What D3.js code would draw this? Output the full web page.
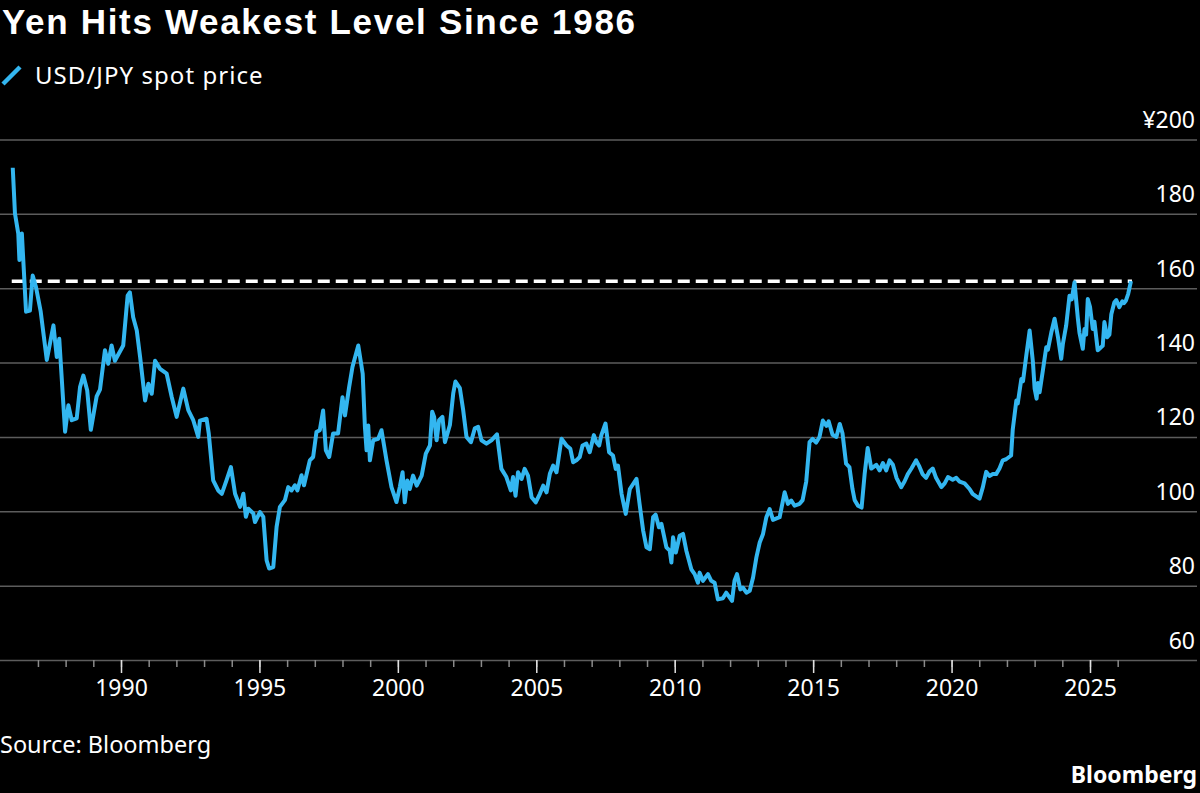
<!DOCTYPE html>
<html>
<head>
<meta charset="utf-8">
<script src="https://cdn.jsdelivr.net/npm/d3@7"></script>
<style>
  html, body { margin: 0; padding: 0; background: #000; }
  svg { display: block; font-family: "Noto Sans", "DejaVu Sans", sans-serif; }
</style>
</head>
<body>
<svg id="chart" width="1200" height="793"></svg>
<script>
// USD/JPY spot (decimal year, yen per dollar)
const years = [
  1986.09, 1986.17, 1986.29, 1986.33, 1986.42, 1986.47, 1986.57, 1986.71, 1986.81, 1986.93,
  1987.10, 1987.32, 1987.56, 1987.68, 1987.77, 1987.98, 1988.10, 1988.22, 1988.40, 1988.52,
  1988.64, 1988.78, 1988.91, 1989.12, 1989.24, 1989.42, 1989.54, 1989.66, 1989.78, 1990.08,
  1990.24, 1990.32, 1990.44, 1990.57, 1990.69, 1990.87, 1990.99, 1991.11, 1991.23, 1991.41,
  1991.65, 1991.83, 1992.01, 1992.25, 1992.43, 1992.61, 1992.79, 1992.85, 1993.09, 1993.17,
  1993.33, 1993.51, 1993.64, 1993.81, 1993.97, 1994.12, 1994.30, 1994.42, 1994.51, 1994.60,
  1994.78, 1994.84, 1995.02, 1995.14, 1995.26, 1995.35, 1995.50, 1995.62, 1995.74, 1995.92,
  1996.04, 1996.16, 1996.28, 1996.37, 1996.52, 1996.61, 1996.82, 1996.94, 1997.06, 1997.18,
  1997.30, 1997.40, 1997.52, 1997.66, 1997.84, 1998.00, 1998.09, 1998.24, 1998.36, 1998.57,
  1998.73, 1998.81, 1998.87, 1998.93, 1998.99, 1999.11, 1999.29, 1999.41, 1999.59, 1999.77,
  1999.95, 2000.07, 2000.17, 2000.25, 2000.34, 2000.43, 2000.55, 2000.68, 2000.86, 2001.01,
  2001.16, 2001.24, 2001.31, 2001.40, 2001.49, 2001.61, 2001.70, 2001.88, 2002.00, 2002.08,
  2002.24, 2002.36, 2002.48, 2002.64, 2002.78, 2002.90, 2003.02, 2003.20, 2003.38, 2003.58,
  2003.74, 2003.92, 2004.08, 2004.16, 2004.25, 2004.34, 2004.47, 2004.58, 2004.70, 2004.83,
  2004.98, 2005.13, 2005.25, 2005.37, 2005.49, 2005.61, 2005.73, 2005.91, 2006.09, 2006.23,
  2006.33, 2006.45, 2006.57, 2006.67, 2006.81, 2006.93, 2007.08, 2007.17, 2007.27, 2007.35,
  2007.50, 2007.63, 2007.77, 2007.87, 2007.95, 2008.08, 2008.23, 2008.38, 2008.62, 2008.73,
  2008.86, 2008.98, 2009.10, 2009.22, 2009.31, 2009.43, 2009.52, 2009.70, 2009.82, 2009.88,
  2009.94, 2010.04, 2010.18, 2010.30, 2010.42, 2010.60, 2010.72, 2010.84, 2010.90, 2011.02,
  2011.20, 2011.32, 2011.44, 2011.56, 2011.74, 2011.86, 2012.07, 2012.16, 2012.25, 2012.37,
  2012.46, 2012.59, 2012.71, 2012.83, 2012.95, 2013.07, 2013.19, 2013.31, 2013.43, 2013.55,
  2013.79, 2013.97, 2014.09, 2014.21, 2014.33, 2014.51, 2014.62, 2014.75, 2014.87, 2014.98,
  2015.11, 2015.23, 2015.35, 2015.48, 2015.56, 2015.70, 2015.84, 2015.96, 2016.06, 2016.19,
  2016.31, 2016.42, 2016.50, 2016.62, 2016.75, 2016.86, 2016.97, 2017.10, 2017.28, 2017.40,
  2017.52, 2017.64, 2017.76, 2017.88, 2018.01, 2018.18, 2018.30, 2018.42, 2018.55, 2018.72,
  2018.84, 2018.95, 2019.08, 2019.20, 2019.32, 2019.44, 2019.63, 2019.75, 2019.87, 2020.04,
  2020.17, 2020.29, 2020.47, 2020.65, 2020.76, 2020.89, 2021.01, 2021.13, 2021.25, 2021.37,
  2021.49, 2021.61, 2021.73, 2021.85, 2021.97, 2022.15, 2022.21, 2022.34, 2022.39, 2022.52,
  2022.58, 2022.70, 2022.82, 2022.94, 2023.00, 2023.07, 2023.12, 2023.18, 2023.30, 2023.42,
  2023.48, 2023.60, 2023.72, 2023.84, 2023.96, 2024.02, 2024.14, 2024.26, 2024.34, 2024.44,
  2024.56, 2024.62, 2024.74, 2024.80, 2024.86, 2024.92, 2025.00, 2025.10, 2025.16, 2025.28,
  2025.38, 2025.46, 2025.52, 2025.62, 2025.70, 2025.77, 2025.88, 2025.95, 2026.06, 2026.17,
  2026.23, 2026.30, 2026.38, 2026.48
]
const usdjpy = [
  192.4, 180.1, 174.7, 167.6, 174.7, 167.6, 153.7, 154.0, 163.4, 160.3,
  153.7, 140.7, 150.0, 141.5, 146.4, 121.4, 128.5, 124.5, 125.0, 133.4,
  136.5, 132.5, 121.9, 130.9, 132.7, 143.3, 139.7, 144.6, 140.5, 144.6,
  158.0, 158.9, 152.2, 148.6, 141.5, 129.8, 134.3, 131.6, 140.5, 138.3,
  137.0, 130.8, 125.4, 133.0, 127.2, 124.5, 120.0, 124.4, 124.9, 120.9,
  108.3, 105.6, 104.7, 108.3, 111.9, 104.7, 101.2, 104.7, 98.5, 100.7,
  99.4, 97.1, 99.8, 98.5, 86.8, 84.6, 85.0, 95.8, 101.2, 103.0,
  106.5, 105.6, 107.0, 105.6, 109.7, 107.0, 113.7, 114.6, 121.3, 121.8,
  127.1, 116.4, 114.6, 120.9, 120.9, 130.7, 125.8, 133.4, 138.8, 144.6,
  137.0, 122.7, 116.4, 123.1, 113.7, 119.1, 119.5, 121.8, 113.7, 106.5,
  102.5, 106.5, 110.5, 102.4, 108.3, 106.0, 109.6, 106.9, 109.6, 115.5,
  117.7, 126.8, 125.4, 119.1, 124.5, 125.4, 118.6, 123.2, 131.7, 134.9,
  133.1, 127.2, 120.0, 118.6, 122.3, 122.7, 119.1, 118.2, 119.1, 120.7,
  111.4, 109.2, 105.6, 109.2, 104.2, 110.5, 108.7, 111.4, 109.6, 103.8,
  102.4, 104.7, 106.9, 105.1, 110.1, 112.3, 110.5, 119.5, 117.7, 116.8,
  113.2, 113.7, 114.6, 117.7, 118.2, 115.9, 120.5, 118.6, 117.7, 120.5,
  123.6, 115.9, 115.0, 111.4, 112.3, 104.7, 99.3, 106.0, 108.7, 102.0,
  94.8, 90.3, 89.8, 98.4, 99.1, 95.7, 96.6, 90.3, 89.4, 86.2,
  93.0, 88.9, 93.4, 93.9, 89.4, 84.4, 83.1, 80.8, 83.5, 81.3,
  83.1, 81.3, 80.8, 76.3, 76.6, 78.1, 75.9, 81.3, 83.1, 79.0,
  79.5, 78.1, 78.6, 82.2, 87.6, 91.6, 93.9, 98.4, 100.6, 97.7,
  98.4, 105.1, 102.0, 102.9, 101.5, 102.0, 103.0, 108.0, 118.6, 119.5,
  118.5, 120.0, 124.4, 123.0, 124.2, 120.6, 120.0, 123.5, 121.0, 112.8,
  111.9, 106.0, 103.0, 101.5, 101.0, 110.0, 117.0, 111.5, 112.5, 111.0,
  113.0, 111.0, 113.7, 112.5, 109.0, 106.5, 108.0, 110.0, 111.5, 113.7,
  112.0, 110.0, 109.0, 110.7, 111.5, 109.0, 106.5, 107.5, 109.2, 108.5,
  109.0, 108.0, 107.5, 106.0, 104.7, 104.0, 103.4, 106.5, 110.6, 109.5,
  110.0, 110.0, 111.5, 113.7, 114.0, 115.0, 122.0, 129.8, 129.0, 135.6,
  135.0, 142.0, 148.6, 140.0, 133.0, 130.3, 134.5, 132.0, 138.0, 144.1,
  143.5, 148.0, 151.8, 147.0, 141.0, 145.0, 150.0, 158.0, 157.0, 161.6,
  152.0, 148.0, 143.7, 149.0, 147.5, 157.1, 155.0, 149.0, 151.0, 143.3,
  144.0, 144.5, 150.9, 146.8, 147.5, 153.0, 156.2, 156.8, 154.9, 156.5,
  156.0, 156.7, 158.5, 161.9
]
const refLevel = 161.9          // dashed line: latest level
const yTicks = [60, 80, 100, 120, 140, 160, 180, 200]
const xMajorTicks = [1990, 1995, 2000, 2005, 2010, 2015, 2020, 2025]
const xMinorTicks = d3.range(1987, 2027)

const W = 1200, H = 793
const svg = d3.select("#chart")
svg.append("rect").attr("width", W).attr("height", H).attr("fill", "#000")

const x = d3.scaleLinear().domain([1990, 2025]).range([121, 1090])
const y = d3.scaleLinear().domain([60, 200]).range([660, 139.5])
const gridRight = 1197

// title + legend
const title = svg.append("text")
  .attr("x", 2).attr("y", 34)
  .attr("fill", "#fff").attr("font-size", 35).attr("font-weight", 700)
  .attr("font-family", '"Liberation Sans", Arial, sans-serif')
  .text("Yen Hits Weakest Level Since 1986")
// stretch the letter spacing so the title spans the same width as the original
const titleW = title.node().getComputedTextLength()
const titleChars = title.text().length
title.attr("letter-spacing", Math.max(0, (633 - titleW) / (titleChars - 1)))

svg.append("line")
  .attr("x1", 3).attr("y1", 84).attr("x2", 20).attr("y2", 67)
  .attr("stroke", "#33b6f0").attr("stroke-width", 4.5)
svg.append("text")
  .attr("x", 35).attr("y", 84)
  .attr("fill", "#fff").attr("font-size", 24)
  .attr("letter-spacing", 1.05)
  .text("USD/JPY spot price")

// gridlines + right labels
const yAxis = d3.axisLeft(y).tickValues(yTicks).tickSize(gridRight)
  .tickFormat(d => d === 200 ? "¥200" : d)
const gy = svg.append("g").attr("transform", `translate(${gridRight},0)`).call(yAxis)
gy.select(".domain").remove()
gy.selectAll(".tick line").attr("stroke", "#5c5c5c").attr("stroke-width", 1.5)
gy.selectAll(".tick text")
  .attr("x", -2).attr("dy", -12)
  .attr("text-anchor", "end")
  .attr("fill", "#fff").attr("font-size", 23)
  .attr("font-family", '"Noto Sans", sans-serif')

// x axis: minor + major ticks
const gxMinor = svg.append("g").attr("transform", `translate(0,${y(60)})`)
  .call(d3.axisBottom(x).tickValues(xMinorTicks).tickSize(7).tickFormat(""))
gxMinor.select(".domain").remove()
gxMinor.selectAll(".tick line").attr("stroke", "#8a8a8a").attr("stroke-width", 1.5)

const gxMajor = svg.append("g").attr("transform", `translate(0,${y(60)})`)
  .call(d3.axisBottom(x).tickValues(xMajorTicks).tickSize(13).tickPadding(7).tickFormat(d3.format("d")))
gxMajor.select(".domain").remove()
gxMajor.selectAll(".tick line").attr("stroke", "#e0e0e0").attr("stroke-width", 1.5)
gxMajor.selectAll(".tick text")
  .attr("fill", "#fff").attr("font-size", 23)
  .attr("font-family", '"Noto Sans", sans-serif')

// the series
const series = years.map((t, i) => [t, usdjpy[i]])

svg.append("line")
  .attr("x1", x(years[0]) - 1).attr("x2", x(years[years.length - 1]) + 1)
  .attr("y1", y(refLevel)).attr("y2", y(refLevel))
  .attr("stroke", "#fff").attr("stroke-width", 3.5)
  .attr("stroke-dasharray", "12,6")

svg.append("path")
  .datum(series)
  .attr("fill", "none")
  .attr("stroke", "#33b6f0")
  .attr("stroke-width", 4)
  .attr("stroke-linejoin", "round")
  .attr("d", d3.line().x(d => x(d[0])).y(d => y(d[1])))

// footer
svg.append("text")
  .attr("x", 0).attr("y", 753)
  .attr("fill", "#fff").attr("font-size", 23.5)
  .text("Source: Bloomberg")
svg.append("text")
  .attr("x", 1197).attr("y", 783)
  .attr("text-anchor", "end")
  .attr("fill", "#fff").attr("font-size", 23).attr("font-weight", 700)
  .text("Bloomberg")
</script>
</body>
</html>
